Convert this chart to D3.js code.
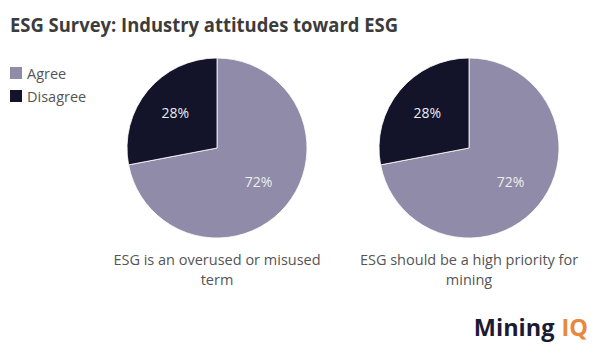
<!DOCTYPE html>
<html><head><meta charset="utf-8">
<script src="https://cdn.jsdelivr.net/npm/d3@7"></script>
<style>body{margin:0;background:#fff}svg{display:block}</style>
</head><body>
<script>
const categories = ["Agree", "Disagree"];
const questions = ["ESG is an overused or misused term", "ESG should be a high priority for mining"];
const questionLines = [["ESG is an overused or misused", "term"], ["ESG should be a high priority for", "mining"]];
const agreeValues = [72, 72];
const disagreeValues = [28, 28];
const colors = ["#8f8ba8", "#13132a"];

const W = 600, H = 356;
const svg = d3.select("body").append("svg").attr("width", W).attr("height", H);
const font = "'Open Sans', sans-serif";

svg.append("text").attr("x", 10).attr("y", 32)
  .attr("font-family", font).attr("font-weight", 700).attr("font-size", 19)
  .attr("fill", "#3c3c3c").text("ESG Survey: Industry attitudes toward ESG")
  .attr("textLength", 388).attr("lengthAdjust", "spacingAndGlyphs");

const color = d3.scaleOrdinal().domain(categories).range(colors);

const leg = svg.append("g");
categories.forEach((c, i) => {
  leg.append("rect").attr("x", 10).attr("y", 67 + i * 23).attr("width", 12).attr("height", 12).attr("fill", color(c));
  leg.append("text").attr("x", 27).attr("y", 79 + i * 23).attr("font-family", font).attr("font-size", 14.5)
    .attr("fill", "#555").text(c);
});

const R = 90;
const centersX = d3.scalePoint().domain(questions).range([217, 469]);
const cy = 148;
const pie = d3.pie().sort(null).startAngle(0).endAngle(2 * Math.PI);
const arc = d3.arc().innerRadius(0).outerRadius(R);
const labelArc = d3.arc().innerRadius(R * 0.6).outerRadius(R * 0.6);

questions.forEach((q, qi) => {
  const data = [agreeValues[qi], disagreeValues[qi]];
  const g = svg.append("g").attr("transform", `translate(${centersX(q)},${cy})`);
  const arcs = pie(data);
  g.selectAll("path").data(arcs).join("path")
    .attr("d", arc).attr("fill", (d, i) => colors[i])
    .attr("stroke", "#fff").attr("stroke-width", 0.8);
  g.selectAll("text").data(arcs).join("text")
    .attr("transform", d => `translate(${labelArc.centroid(d)})`)
    .attr("text-anchor", "middle").attr("dy", "0.35em")
    .attr("font-family", font).attr("font-size", 14).attr("fill", "#eeeeee")
    .text(d => d.data + "%");
  const t = svg.append("text").attr("text-anchor", "middle").attr("font-family", font)
    .attr("font-size", 14.5).attr("fill", "#555");
  questionLines[qi].forEach((line, li) => {
    t.append("tspan").attr("x", centersX(q)).attr("y", 265 + li * 20).text(line);
  });
});

const logo = svg.append("text").attr("x", 588).attr("y", 336).attr("text-anchor", "end")
  .attr("font-family", font).attr("font-weight", 700).attr("font-size", 23.5);
logo.append("tspan").attr("fill", "#1b1b33").text("Mining");
logo.append("tspan").attr("fill", "#e8883c").attr("dx", 7).text("IQ");
</script>
</body></html>
